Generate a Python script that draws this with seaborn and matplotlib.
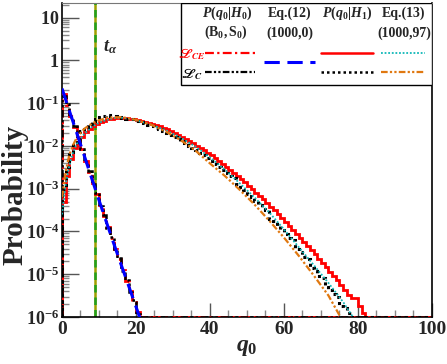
import numpy as np
import matplotlib
matplotlib.use("Agg")
import matplotlib.pyplot as plt
import seaborn as sns
from matplotlib.patches import Rectangle
from matplotlib.ticker import FixedLocator, NullFormatter, MultipleLocator

sns.set_style("ticks")
plt.rcParams["font.family"] = ["Liberation Serif", "DejaVu Serif"]
plt.rcParams["font.weight"] = "bold"
plt.rcParams["mathtext.fontset"] = "custom"
plt.rcParams["mathtext.rm"] = "Liberation Serif:bold"
plt.rcParams["mathtext.bf"] = "Liberation Serif:bold"
plt.rcParams["mathtext.it"] = "Liberation Serif:bold:italic"

# ---- data (bin width 1 in q0, bins start at 0) ----
# P(q0|H0) histograms
h0_ce = [1.6e-1, 9.1e-2, 5.0e-2, 2.75e-2, 1.51e-2, 8.3e-3, 4.5e-3, 2.45e-3, 1.35e-3, 7.4e-4,
         4.1e-4, 2.3e-4, 1.26e-4, 7.1e-5, 4.0e-5, 2.24e-5, 1.26e-5, 7.1e-6, 4.0e-6, 2.3e-6,
         1.32e-6]
h0_c = [1.5e-1, 9.5e-2, 4.8e-2, 2.9e-2, 1.45e-2, 8.6e-3, 4.3e-3, 2.6e-3, 1.3e-3, 7.8e-4,
        3.9e-4, 2.4e-4, 1.2e-4, 7.5e-5, 3.8e-5, 2.4e-5, 1.2e-5, 7.5e-6, 3.8e-6, 2.5e-6,
        1.2e-6]

# P(q0|H1) histograms
h1_ce = [5.0e-4, 2.0e-3, 5.0e-3, 8.9e-3, 1.26e-2, 1.66e-2, 2.09e-2, 2.51e-2, 2.95e-2, 3.31e-2,
         3.63e-2, 3.89e-2, 4.17e-2, 4.37e-2, 4.47e-2, 4.57e-2, 4.57e-2, 4.47e-2, 4.37e-2, 4.22e-2,
         4.07e-2, 3.89e-2, 3.72e-2, 3.51e-2, 3.31e-2, 3.09e-2, 2.88e-2, 2.66e-2, 2.45e-2, 2.24e-2,
         2.04e-2, 1.84e-2, 1.66e-2, 1.48e-2, 1.32e-2, 1.17e-2, 1.02e-2, 9.1e-3, 7.9e-3, 6.9e-3,
         6.0e-3, 5.1e-3, 4.47e-3, 3.8e-3, 3.24e-3, 2.75e-3, 2.34e-3, 2.0e-3, 1.66e-3, 1.41e-3,
         1.17e-3, 9.8e-4, 8.1e-4, 6.8e-4, 5.6e-4, 4.6e-4, 3.8e-4, 3.1e-4, 2.5e-4, 2.04e-4,
         1.66e-4, 1.35e-4, 1.10e-4, 8.9e-5, 7.2e-5, 5.8e-5, 4.6e-5, 3.6e-5, 2.9e-5, 2.3e-5,
         1.82e-5, 1.45e-5, 1.15e-5, 9.1e-6, 7.2e-6, 5.6e-6, 4.4e-6, 3.2e-6, 2.75e-6, 2.75e-6,
         1.8e-6, 1.26e-6]
h1_c = [1.0e-3, 3.16e-3, 7.1e-3, 1.07e-2, 1.78e-2, 2.24e-2, 2.82e-2, 3.31e-2, 3.80e-2, 4.37e-2,
        4.79e-2, 5.13e-2, 5.25e-2, 5.01e-2, 4.90e-2, 4.68e-2, 4.47e-2, 4.27e-2, 4.27e-2, 4.3e-2,
        3.80e-2, 3.55e-2, 3.5e-2, 3.09e-2, 2.88e-2, 2.63e-2, 2.45e-2, 2.24e-2, 2.04e-2, 1.82e-2,
        1.66e-2, 1.48e-2, 1.32e-2, 1.17e-2, 1.02e-2, 9.1e-3, 7.9e-3, 6.9e-3, 6.0e-3, 5.1e-3,
        4.47e-3, 3.8e-3, 3.24e-3, 2.75e-3, 2.29e-3, 1.95e-3, 1.8e-3, 1.3e-3, 1.12e-3, 9.3e-4,
        7.6e-4, 6.3e-4, 5.1e-4, 4.2e-4, 3.4e-4, 3.1e-4, 2.0e-4, 1.74e-4, 1.38e-4, 1.10e-4,
        8.7e-5, 6.9e-5, 6.2e-5, 3.9e-5, 3.3e-5, 2.6e-5, 2.3e-5, 1.4e-5, 1.2e-5, 9.3e-6,
        8.0e-6, 5.0e-6, 4.4e-6, 3.4e-6, 3.0e-6, 1.8e-6, 1.6e-6, 1.26e-6]

# Eq.(12) asymptotic H0
eq12_q = [0, 2, 4, 6, 8, 10, 12, 14, 16, 18, 20, 22]
eq12_p = [2.2e-1, 6.6e-2, 2.0e-2, 6.0e-3, 1.78e-3, 5.4e-4, 1.66e-4, 5.2e-5, 1.66e-5, 5.4e-6,
          1.74e-6, 5.6e-7]

# Eq.(13) asymptotic H1
eq13_ce_q = [0, 1, 2, 3, 4, 6, 8, 10, 12, 14, 16, 18, 20, 24, 28, 32, 36, 40, 44, 48, 52,
             56, 60, 64, 68, 72, 76, 79]
eq13_ce_p = [2.5e-4, 1.26e-3, 3.5e-3, 7.1e-3, 1.12e-2, 1.9e-2, 2.75e-2, 3.47e-2, 4.07e-2,
             4.47e-2, 4.57e-2, 4.37e-2, 3.98e-2, 3.16e-2, 2.34e-2, 1.58e-2, 9.8e-3, 5.4e-3,
             2.82e-3, 1.35e-3, 6.3e-4, 2.8e-4, 1.12e-4, 4.3e-5, 1.66e-5, 6.3e-6, 2.24e-6, 8.9e-7]
eq13_c_q = [0, 1, 2, 3, 4, 6, 8, 10, 12, 14, 16, 18, 20, 24, 28, 32, 36, 40, 44, 48, 52,
            56, 60, 64, 68, 72, 75]
eq13_c_p = [6.3e-4, 2.5e-3, 6.3e-3, 1.05e-2, 1.58e-2, 2.51e-2, 3.31e-2, 3.98e-2, 4.47e-2,
            4.68e-2, 4.68e-2, 4.47e-2, 4.07e-2, 3.16e-2, 2.19e-2, 1.38e-2, 7.9e-3, 3.9e-3,
            2.0e-3, 9.5e-4, 4.3e-4, 1.8e-4, 7.2e-5, 2.7e-5, 9.5e-6, 3.2e-6, 1.1e-6]

t_alpha = 9.0
ymin, ymax = 1e-6, 22

fig = plt.figure(figsize=(4.47, 3.64), dpi=100)
ax = fig.add_axes([0.1387, 0.129, 0.8277, 0.8628])
ax.set_yscale("log")

edges = np.arange(0, 101)


def hist(vals, **kw):
    full = np.zeros(100)
    full[:len(vals)] = vals
    ax.stairs(np.maximum(full, ymin), edges, baseline=ymin, **kw)


hist(h1_ce, color="red", lw=2.0, ls="-", zorder=3)
hist(h1_c, color="black", lw=2.2, ls=(0, (1, 1.2)), zorder=4)
sns.lineplot(x=eq13_ce_q, y=eq13_ce_p, ax=ax, color="#10b8b8", lw=1.3,
             ls=(0, (1, 1)), zorder=5)
sns.lineplot(x=eq13_c_q, y=eq13_c_p, ax=ax, color="#e07810", lw=1.6,
             ls=(0, (3, 1, 1, 1, 1, 1)), zorder=5)
hist(h0_ce, color="red", lw=2.0, ls=(0, (4, 1.5, 1, 1.5)), zorder=3)
hist(h0_c, color="black", lw=1.8, ls=(0, (3, 1, 1, 1, 1, 1)), zorder=4)
sns.lineplot(x=eq12_q, y=eq12_p, ax=ax, color="blue", lw=2.2,
             ls=(0, (5, 2.5)), zorder=6)

# t_alpha line
ax.axvline(t_alpha, color="#a0a000", lw=1.8, zorder=2)
ax.axvline(t_alpha, color="#20a020", lw=1.8, ls=(0, (3, 2)), zorder=2)
ax.text(t_alpha + 2.2, 2.0, r"$t_{\alpha}$", fontsize=13, va="center", ha="left")

ax.set_xlim(0, 100)
ax.set_ylim(ymin, ymax)

yt = [1e-6, 1e-5, 1e-4, 1e-3, 1e-2, 1e-1, 1, 10]
ylabels = [r"$10^{-6}$", r"$10^{-5}$", r"$10^{-4}$", r"$10^{-3}$", r"$10^{-2}$",
           r"$10^{-1}$", r"$1$", r"$10$"]
ax.yaxis.set_major_locator(FixedLocator(yt))
ax.set_yticklabels(ylabels, fontsize=13)
minors = [m * 10.0 ** e for e in range(-6, 2) for m in range(2, 10)]
ax.yaxis.set_minor_locator(FixedLocator(minors))
ax.yaxis.set_minor_formatter(NullFormatter())
ax.xaxis.set_major_locator(MultipleLocator(20))
ax.xaxis.set_minor_locator(MultipleLocator(5))
ax.tick_params(axis="x", labelsize=14, pad=3)
ax.tick_params(axis="y", pad=2)
ax.tick_params(which="major", direction="in", length=10, width=1.0, color="#555555")
ax.tick_params(which="minor", direction="in", length=5, width=1.0, color="#888888")
ax.tick_params(axis="y", which="major", length=12)
for lab in ax.get_xticklabels():
    lab.set_fontweight("bold")

for s in ["left", "bottom", "right"]:
    ax.spines[s].set_color("black")
    ax.spines[s].set_linewidth(1.2)
ax.spines["top"].set_color("#777777")

ax.set_ylabel("Probability", fontsize=21, fontweight="bold", va="center")
ax.yaxis.set_label_coords(-0.128, 0.39)
ax.set_xlabel(r"$q_0$", fontsize=17, va="center")
ax.xaxis.set_label_coords(0.50, -0.098)

# ---- legend table ----
tr = ax.transAxes
ax.add_patch(Rectangle((0.3216, 0.739), 0.6784, 0.261, transform=tr, facecolor="white",
                       edgecolor="black", lw=1.0, zorder=10))
hdr = dict(transform=tr, ha="center", va="center", fontsize=10, zorder=11)
ax.text(0.447, 0.966, r"$P(q_0|H_0)$", **hdr)
ax.text(0.443, 0.905, r"$\mathrm{(B_0,S_0)}$", **hdr)
ax.text(0.616, 0.966, "Eq.(12)", fontweight="bold", **hdr)
ax.text(0.616, 0.905, "(1000,0)", fontweight="bold", **hdr)
ax.text(0.770, 0.966, r"$P(q_0|H_1)$", **hdr)
ax.text(0.924, 0.966, "Eq.(13)", fontweight="bold", **hdr)
ax.text(0.924, 0.905, "(1000,97)", fontweight="bold", **hdr)
ax.text(0.352, 0.836, r"$\mathscr{L}_{CE}$", transform=tr, ha="center", va="center",
        fontsize=9.5, color="red", math_fontfamily="stix", zorder=11)
ax.text(0.352, 0.773, r"$\mathscr{L}_{C}$", transform=tr, ha="center", va="center",
        fontsize=9.5, color="black", math_fontfamily="stix", zorder=11)


def leg_line(x0, x1, y, **kw):
    ax.plot([x0, x1], [y, y], transform=tr, zorder=11, clip_on=False, **kw)


leg_line(0.386, 0.522, 0.841, color="red", lw=1.6, ls=(0, (4, 1.5, 1, 1.5)))
leg_line(0.386, 0.522, 0.780, color="black", lw=1.6, ls=(0, (3, 1, 1, 1, 1, 1)))
leg_line(0.546, 0.684, 0.812, color="blue", lw=2.2, ls=(0, (5, 2.5)))
leg_line(0.700, 0.840, 0.841, color="red", lw=1.8)
leg_line(0.700, 0.840, 0.780, color="black", lw=1.8, ls=(0, (1, 1.2)))
leg_line(0.862, 0.981, 0.841, color="#10b8b8", lw=1.3, ls=(0, (1, 1)))
leg_line(0.862, 0.981, 0.780, color="#e07810", lw=1.6, ls=(0, (3, 1, 1, 1, 1, 1)))

fig.savefig("out.png", dpi=100)
